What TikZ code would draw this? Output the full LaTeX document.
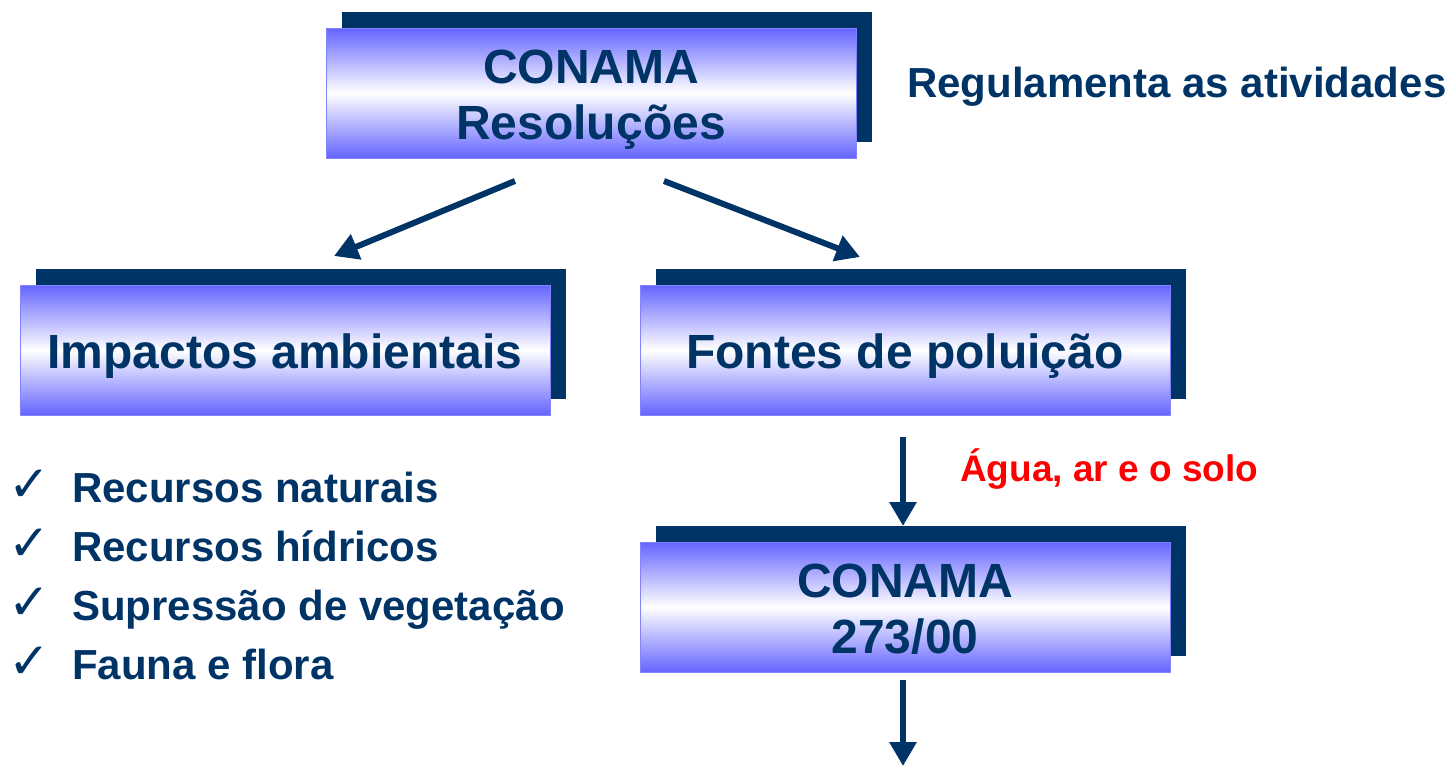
\documentclass[tikz,border=0pt]{standalone}
\usepackage{fontspec}
\setmainfont{Liberation Sans}
\newfontfamily\djv{DejaVu Sans}
\usetikzlibrary{arrows.meta}
\definecolor{navy}{HTML}{003366}
\definecolor{boxblue}{HTML}{6464FF}
\definecolor{redtxt}{HTML}{FF0000}
\begin{document}
\begin{tikzpicture}[x=1pt,y=-1pt,
  shadowbox/.style={fill=navy,draw=none,minimum width=530pt,minimum height=130pt,inner sep=0pt},
  frontbox/.style={top color=boxblue,bottom color=boxblue,middle color=white,draw=boxblue!80!white,line width=0.8pt,
     minimum width=530pt,minimum height=130pt,inner sep=0pt},
  boxtxt/.style={anchor=base,text=navy,inner sep=0pt,font=\fontsize{48}{56}\selectfont\bfseries},
  conn/.style={draw=navy,line width=6pt,-{Triangle[width=26pt,length=24pt]}},
  itemtxt/.style={anchor=base west,text=navy,font=\fontsize{42}{50}\selectfont\bfseries,inner sep=0pt},
  chk/.style={anchor=base west,text=navy,font=\djv\fontsize{50}{56}\selectfont,inner sep=0pt}]
\useasboundingbox (0,0) rectangle (1456,766);
% boxes
\node[shadowbox] (s1) at (607,77) {};
\node[frontbox] (b1) at (591,93) {};
\node[boxtxt] (b1a) at (591,83) {CONAMA};
\node[boxtxt] (b1b) at (591,139) {Resoluções};
\node[shadowbox] (s2) at (301,334) {};
\node[frontbox] (b2) at (285,350) {};
\node[boxtxt] (b2a) at (285,368) {Impactos ambientais};
\node[shadowbox] (s3) at (921,334) {};
\node[frontbox] (b3) at (905,350) {};
\node[boxtxt] (b3a) at (905,368) {Fontes de poluição};
\node[shadowbox] (s4) at (921,591) {};
\node[frontbox] (b4) at (905,607) {};
\node[boxtxt] (b4a) at (905,597) {CONAMA};
\node[boxtxt] (b4b) at (905,653) {273/00};
% labels
\node[anchor=base west,text=navy,font=\fontsize{42}{50}\selectfont\bfseries,inner sep=0pt] (reg) at (907,97) {Regulamenta as atividades};
\node[anchor=base west,text=redtxt,font=\fontsize{37}{44}\selectfont\bfseries,inner sep=0pt] (agua) at (960,481) {Água, ar e o solo};
% list
\node[chk] (c1) at (8,501) {✓};
\node[itemtxt] (t1) at (72,502) {Recursos naturais};
\node[chk] (c2) at (8,560) {✓};
\node[itemtxt] (t2) at (72,561) {Recursos hídricos};
\node[chk] (c3) at (8,619) {✓};
\node[itemtxt] (t3) at (72,620) {Supressão de vegetação};
\node[chk] (c4) at (8,678) {✓};
\node[itemtxt] (t4) at (72,679) {Fauna e flora};
% connector endpoints
\coordinate (a1s) at (515,181);
\coordinate (a1e) at (334,256);
\coordinate (a2s) at (664,181);
\coordinate (a2e) at (860,257);
\coordinate (a3s) at (903,437);
\coordinate (a3e) at (903,526);
\coordinate (a4s) at (903,680);
\coordinate (a4e) at (903,766);
\draw[conn] (a1s) -- (a1e);
\draw[conn] (a2s) -- (a2e);
\draw[conn] (a3s) -- (a3e);
\draw[conn] (a4s) -- (a4e);
\end{tikzpicture}
\end{document}
